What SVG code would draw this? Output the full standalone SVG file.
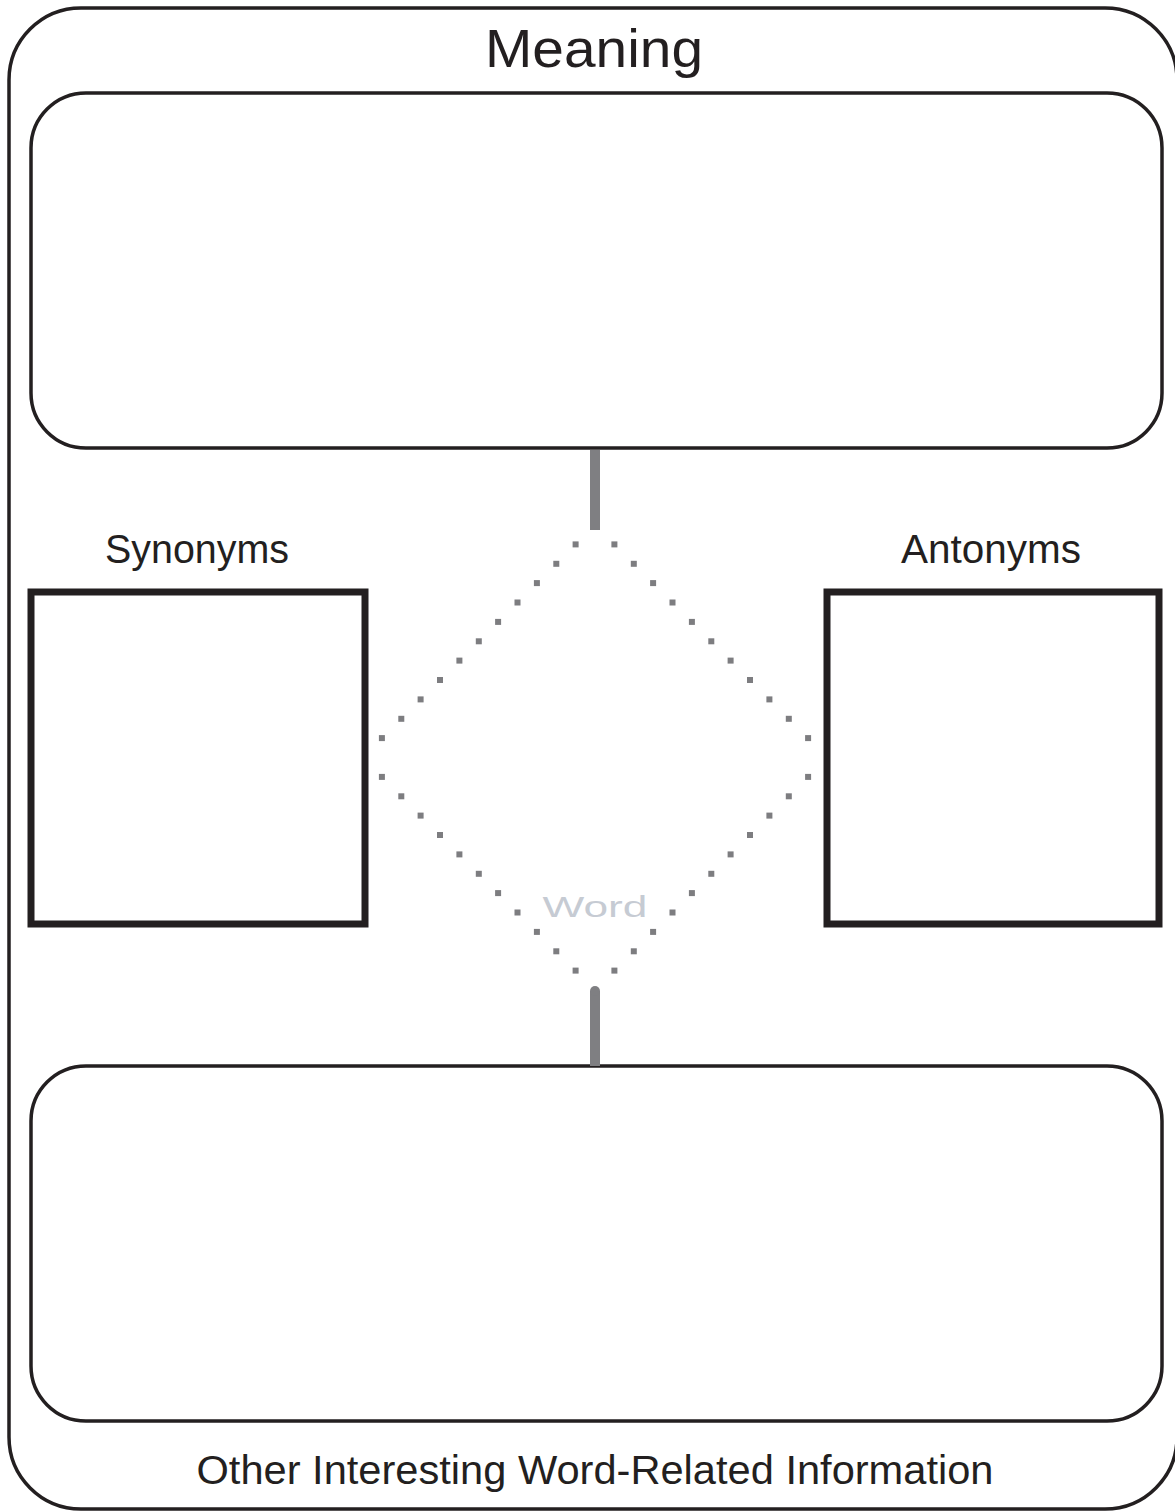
<svg xmlns="http://www.w3.org/2000/svg" xmlns:xlink="http://www.w3.org/1999/xlink" width="1175" height="1512" viewBox="0 0 1175 1512">
<style>
.frame{fill:none;stroke:#231f20;stroke-width:3.5}
.sq{fill:none;stroke:#231f20;stroke-width:7}
.lbl{font-family:"Liberation Sans",Arial,sans-serif;fill:#231f20;text-anchor:middle}
.conn{stroke:#7f7f82;stroke-width:10;fill:none}
.dot{fill:#7d7d80}
.word{font-family:"Liberation Sans",Arial,sans-serif;fill:#c6cbd3;text-anchor:middle;font-size:30px}
</style>
<defs>
<rect id="d" class="dot" x="-3" y="-3" width="6" height="6"/>
</defs>
<rect width="1175" height="1512" fill="#ffffff"/>
<g id="outer">
<rect class="frame" x="9" y="8" width="1168" height="1501" rx="72" ry="72"/>
</g>
<g id="meaning">
<rect class="frame" x="31" y="93" width="1131" height="355" rx="55" ry="55"/>
<text class="lbl" x="594" y="67" font-size="53" textLength="218" lengthAdjust="spacingAndGlyphs">Meaning</text>
</g>
<g id="synonyms">
<rect class="sq" x="31" y="592" width="334" height="332"/>
<text class="lbl" x="197" y="563" font-size="40" textLength="184" lengthAdjust="spacingAndGlyphs">Synonyms</text>
</g>
<g id="antonyms">
<rect class="sq" x="827" y="592" width="332" height="332"/>
<text class="lbl" x="991" y="563" font-size="40" textLength="180" lengthAdjust="spacingAndGlyphs">Antonyms</text>
</g>
<g id="other">
<rect class="frame" x="31" y="1066" width="1131" height="355" rx="55" ry="55"/>
<text class="lbl" x="595" y="1484" font-size="40" textLength="797" lengthAdjust="spacingAndGlyphs">Other Interesting Word-Related Information</text>
</g>
<g id="word">
<g id="diamond">
<use xlink:href="#d" x="575.6" y="544.4"/><use xlink:href="#d" x="556.3" y="563.8"/><use xlink:href="#d" x="536.9" y="583.1"/><use xlink:href="#d" x="517.5" y="602.5"/><use xlink:href="#d" x="498.1" y="621.9"/><use xlink:href="#d" x="478.8" y="641.3"/><use xlink:href="#d" x="459.4" y="660.6"/><use xlink:href="#d" x="440" y="680"/><use xlink:href="#d" x="420.6" y="699.4"/><use xlink:href="#d" x="401.3" y="718.8"/><use xlink:href="#d" x="381.9" y="738.1"/>
<use xlink:href="#d" x="614.4" y="544.4"/><use xlink:href="#d" x="633.8" y="563.8"/><use xlink:href="#d" x="653.1" y="583.1"/><use xlink:href="#d" x="672.5" y="602.5"/><use xlink:href="#d" x="691.9" y="621.9"/><use xlink:href="#d" x="711.3" y="641.3"/><use xlink:href="#d" x="730.6" y="660.6"/><use xlink:href="#d" x="750" y="680"/><use xlink:href="#d" x="769.4" y="699.4"/><use xlink:href="#d" x="788.8" y="718.8"/><use xlink:href="#d" x="808.1" y="738.1"/>
<use xlink:href="#d" x="575.6" y="970.6"/><use xlink:href="#d" x="556.3" y="951.3"/><use xlink:href="#d" x="536.9" y="931.9"/><use xlink:href="#d" x="517.5" y="912.5"/><use xlink:href="#d" x="498.1" y="893.1"/><use xlink:href="#d" x="478.8" y="873.8"/><use xlink:href="#d" x="459.4" y="854.4"/><use xlink:href="#d" x="440" y="835"/><use xlink:href="#d" x="420.6" y="815.6"/><use xlink:href="#d" x="401.3" y="796.3"/><use xlink:href="#d" x="381.9" y="776.9"/>
<use xlink:href="#d" x="614.4" y="970.6"/><use xlink:href="#d" x="633.8" y="951.3"/><use xlink:href="#d" x="653.1" y="931.9"/><use xlink:href="#d" x="672.5" y="912.5"/><use xlink:href="#d" x="691.9" y="893.1"/><use xlink:href="#d" x="711.3" y="873.8"/><use xlink:href="#d" x="730.6" y="854.4"/><use xlink:href="#d" x="750" y="835"/><use xlink:href="#d" x="769.4" y="815.6"/><use xlink:href="#d" x="788.8" y="796.3"/><use xlink:href="#d" x="808.1" y="776.9"/>
</g>
<text class="word" x="595" y="917" textLength="105" lengthAdjust="spacingAndGlyphs">Word</text>
</g>
<g id="connectors">
<line class="conn" x1="595" y1="450" x2="595" y2="530"/>
<line class="conn" x1="595" y1="991" x2="595" y2="1066" stroke-linecap="butt"/>
<circle cx="595" cy="991" r="5" fill="#7f7f82"/>
</g>
</svg>
